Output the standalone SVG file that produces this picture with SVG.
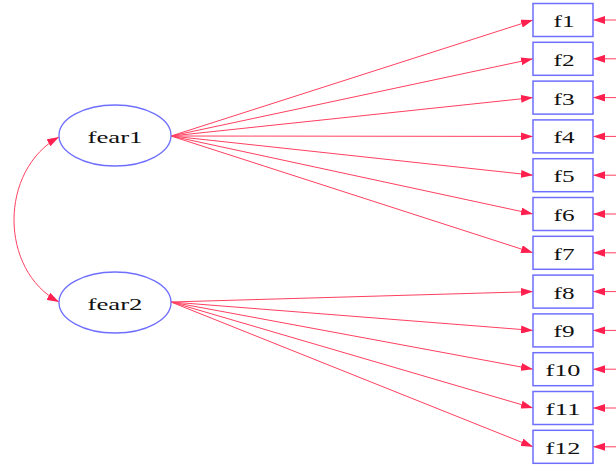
<svg xmlns="http://www.w3.org/2000/svg" width="616" height="467" viewBox="0 0 616 467">
<style>
.lat{fill:#fff;stroke:#6f6fff;stroke-width:1.3}
.obs{fill:#fff;stroke:#6f6fff;stroke-width:1.5}
.t{font-family:"Liberation Serif","Times New Roman",serif;font-size:16px;fill:#111;text-anchor:middle}
.e{stroke:#ff4060;stroke-width:1;fill:none;marker-end:url(#ah)}
</style>
<defs>
<marker id="ah" markerUnits="userSpaceOnUse" markerWidth="12" markerHeight="8" refX="12" refY="4" orient="auto">
<path d="M0,0 L12,4 L0,8 Z" fill="#ff2050"/>
</marker>
<marker id="ahs" markerUnits="userSpaceOnUse" markerWidth="12" markerHeight="8" refX="12" refY="4" orient="auto-start-reverse">
<path d="M0,0 L12,4 L0,8 Z" fill="#ff2050"/>
</marker>
</defs>
<g id="connectors">
<path class="e" d="M59,137 C-1,170 -1,270 59,302" style="marker-start:url(#ahs)"/>
<line class="e" x1="171" y1="136" x2="533" y2="20"/>
<line class="e" x1="171" y1="136" x2="533" y2="58.8"/>
<line class="e" x1="171" y1="136" x2="533" y2="97.6"/>
<line class="e" x1="171" y1="136" x2="533" y2="136.4"/>
<line class="e" x1="171" y1="136" x2="533" y2="175.2"/>
<line class="e" x1="171" y1="136" x2="533" y2="214"/>
<line class="e" x1="171" y1="136" x2="533" y2="252.8"/>
<line class="e" x1="171" y1="302" x2="533" y2="291.6"/>
<line class="e" x1="171" y1="302" x2="533" y2="330.4"/>
<line class="e" x1="171" y1="302" x2="533" y2="369.2"/>
<line class="e" x1="171" y1="302" x2="533" y2="408"/>
<line class="e" x1="171" y1="302" x2="533" y2="446.8"/>
<line class="e" x1="616" y1="20" x2="593" y2="20"/>
<line class="e" x1="616" y1="58.8" x2="593" y2="58.8"/>
<line class="e" x1="616" y1="97.6" x2="593" y2="97.6"/>
<line class="e" x1="616" y1="136.4" x2="593" y2="136.4"/>
<line class="e" x1="616" y1="175.2" x2="593" y2="175.2"/>
<line class="e" x1="616" y1="214" x2="593" y2="214"/>
<line class="e" x1="616" y1="252.8" x2="593" y2="252.8"/>
<line class="e" x1="616" y1="291.6" x2="593" y2="291.6"/>
<line class="e" x1="616" y1="330.4" x2="593" y2="330.4"/>
<line class="e" x1="616" y1="369.2" x2="593" y2="369.2"/>
<line class="e" x1="616" y1="408" x2="593" y2="408"/>
<line class="e" x1="616" y1="446.8" x2="593" y2="446.8"/>
</g>
<g id="fear1"><ellipse class="lat" cx="115" cy="135.5" rx="56" ry="30.5"/><text class="t" x="115" y="142.5" textLength="55" lengthAdjust="spacingAndGlyphs">fear1</text></g>
<g id="fear2"><ellipse class="lat" cx="115" cy="302.5" rx="56" ry="30.5"/><text class="t" x="115" y="309.5" textLength="55" lengthAdjust="spacingAndGlyphs">fear2</text></g>
<g id="f1"><rect class="obs" x="533" y="3.5" width="60" height="33"/><text class="t" x="564" y="27" textLength="21" lengthAdjust="spacingAndGlyphs">f1</text></g>
<g id="f2"><rect class="obs" x="533" y="42.3" width="60" height="33"/><text class="t" x="564" y="65.8" textLength="21" lengthAdjust="spacingAndGlyphs">f2</text></g>
<g id="f3"><rect class="obs" x="533" y="81.1" width="60" height="33"/><text class="t" x="564" y="104.6" textLength="21" lengthAdjust="spacingAndGlyphs">f3</text></g>
<g id="f4"><rect class="obs" x="533" y="119.9" width="60" height="33"/><text class="t" x="564" y="143.4" textLength="21" lengthAdjust="spacingAndGlyphs">f4</text></g>
<g id="f5"><rect class="obs" x="533" y="158.7" width="60" height="33"/><text class="t" x="564" y="182.2" textLength="21" lengthAdjust="spacingAndGlyphs">f5</text></g>
<g id="f6"><rect class="obs" x="533" y="197.5" width="60" height="33"/><text class="t" x="564" y="221" textLength="21" lengthAdjust="spacingAndGlyphs">f6</text></g>
<g id="f7"><rect class="obs" x="533" y="236.3" width="60" height="33"/><text class="t" x="564" y="259.8" textLength="21" lengthAdjust="spacingAndGlyphs">f7</text></g>
<g id="f8"><rect class="obs" x="533" y="275.1" width="60" height="33"/><text class="t" x="564" y="298.6" textLength="21" lengthAdjust="spacingAndGlyphs">f8</text></g>
<g id="f9"><rect class="obs" x="533" y="313.9" width="60" height="33"/><text class="t" x="564" y="337.4" textLength="21" lengthAdjust="spacingAndGlyphs">f9</text></g>
<g id="f10"><rect class="obs" x="533" y="352.7" width="60" height="33"/><text class="t" x="563" y="376.2" textLength="35" lengthAdjust="spacingAndGlyphs">f10</text></g>
<g id="f11"><rect class="obs" x="533" y="391.5" width="60" height="33"/><text class="t" x="563" y="415" textLength="35" lengthAdjust="spacingAndGlyphs">f11</text></g>
<g id="f12"><rect class="obs" x="533" y="430.3" width="60" height="33"/><text class="t" x="563" y="453.8" textLength="35" lengthAdjust="spacingAndGlyphs">f12</text></g>
</svg>
